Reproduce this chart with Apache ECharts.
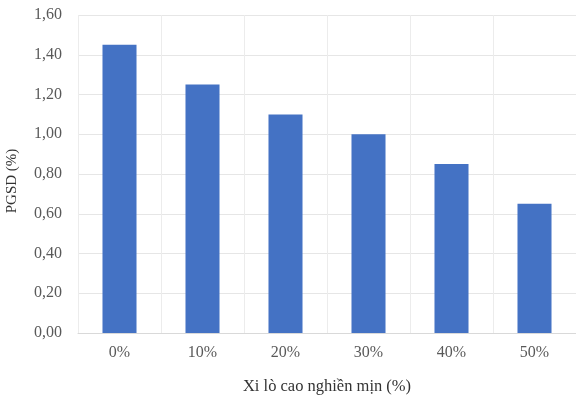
<!DOCTYPE html>
<html>
<head>
<meta charset="utf-8">
<script src="https://cdn.jsdelivr.net/npm/echarts@6/dist/echarts.min.js"></script>
<style>
  html, body { margin: 0; padding: 0; background: #fff; }
  #chart { width: 576px; height: 395px; }
</style>
</head>
<body>
<div id="chart"></div>
<script>
// Slag content categories and measured PGSD values
const categories = ['0%', '10%', '20%', '30%', '40%', '50%'];
const pgsdValues = [1.45, 1.25, 1.10, 1.00, 0.85, 0.65];
const yTicks = { min: 0, max: 1.6, interval: 0.2 };

const chart = echarts.init(document.getElementById('chart'));
const serif = '"Liberation Serif", "DejaVu Serif", serif';

chart.setOption({
  animation: false,
  backgroundColor: '#ffffff',
  grid: { left: 78, right: 0, top: 15, bottom: 62, outerBoundsMode: 'none', containLabel: false },
  xAxis: {
    type: 'category',
    data: categories,
    boundaryGap: true,
    name: 'Xi lò cao nghiền mịn (%)',
    nameLocation: 'middle',
    nameGap: 45,
    nameTextStyle: { fontFamily: serif, fontSize: 16.5, color: '#333333' },
    axisLine: { show: true, lineStyle: { color: '#d9d9d9', width: 1 } },
    axisTick: { show: false },
    axisLabel: { fontFamily: serif, fontSize: 16, color: '#595959', margin: 12 },
    splitLine: { show: true, interval: 0, lineStyle: { color: '#ececec', width: 1 } }
  },
  yAxis: {
    type: 'value',
    min: yTicks.min,
    max: yTicks.max,
    interval: yTicks.interval,
    name: 'PGSD (%)',
    nameLocation: 'middle',
    nameGap: 58,
    nameRotate: 90,
    nameTextStyle: { fontFamily: serif, fontSize: 15, color: '#333333', padding: [0, 14, 0, 0] },
    axisLine: { show: false },
    axisTick: { show: false },
    axisLabel: {
      fontFamily: serif, fontSize: 16, color: '#595959', margin: 16,
      formatter: v => v.toFixed(2).replace('.', ',')
    },
    splitLine: { lineStyle: { color: '#e6e6e6', width: 1 } }
  },
  series: [{
    type: 'bar',
    data: pgsdValues,
    barWidth: '41%',
    itemStyle: { color: '#4472c4' }
  }]
});
</script>
</body>
</html>
